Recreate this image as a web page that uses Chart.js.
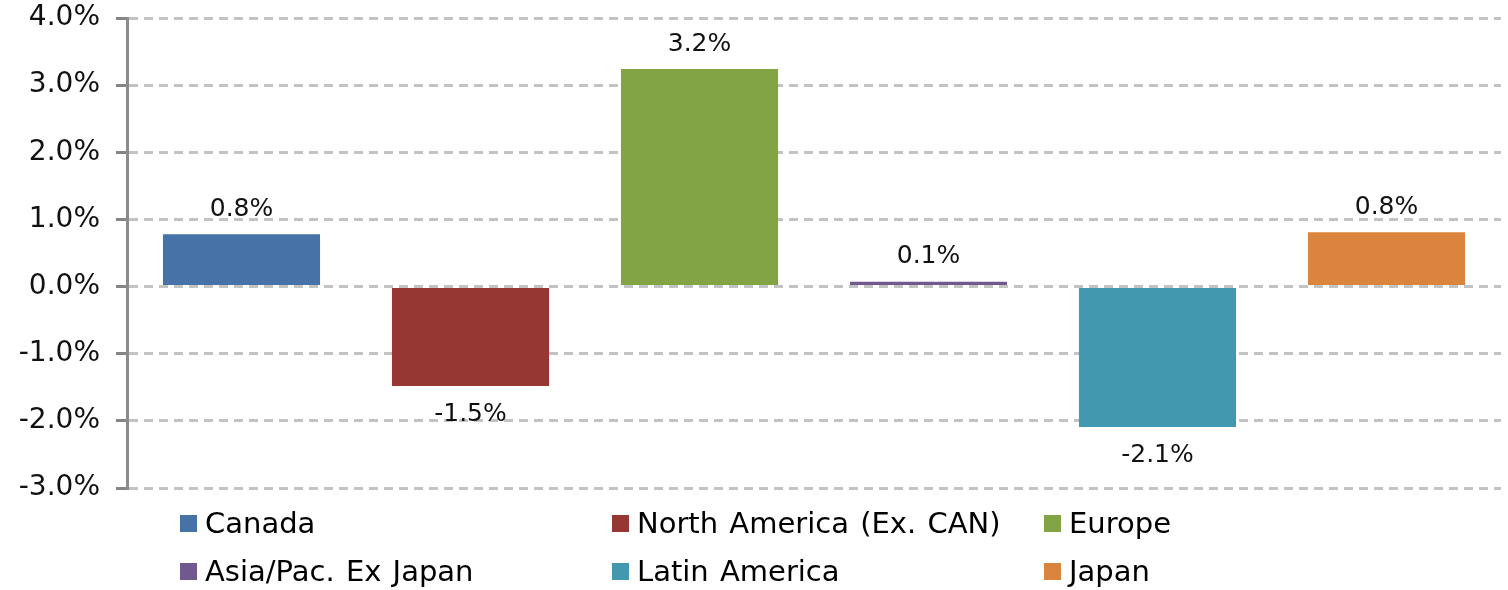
<!DOCTYPE html>
<html>
<head>
<meta charset="utf-8">
<script src="https://cdn.jsdelivr.net/npm/chart.js@4/dist/chart.umd.min.js"></script>
<style>
    html, body { margin: 0; padding: 0; background: #fff; }
    #wrap { position: relative; width: 1508px; height: 590px; }
    #legend {
        position: absolute;
        left: 180px;
        top: 499px;
        display: grid;
        grid-template-columns: 432px 432px 300px;
        font-family: "DejaVu Sans", Verdana, sans-serif;
        font-size: 29px;
        word-spacing: 2px;
        color: #000;
    }
    .item { display: flex; align-items: center; height: 48px; white-space: nowrap; }
    .box { width: 17px; height: 17px; margin-right: 8px; flex: none; }
</style>
</head>
<body>
<div id="wrap">
    <canvas id="regionChart" width="1508" height="590"></canvas>
    <div id="legend"></div>
</div>
<script>
// Chart data
const regions = ["Canada", "North America (Ex. CAN)", "Europe", "Asia/Pac. Ex Japan", "Latin America", "Japan"];
const returns = [0.78, -1.48, 3.24, 0.07, -2.09, 0.81];
const barColors = ["#4672A7", "#963734", "#82A444", "#71588F", "#4198AF", "#DB843D"];
const yTicks = [-3, -2, -1, 0, 1, 2, 3, 4];

const FONT = '"DejaVu Sans", Verdana, sans-serif';

// Draws the value above/below each bar
const valueLabels = {
    id: 'valueLabels',
    afterDatasetsDraw(chart) {
        const ctx = chart.ctx;
        ctx.save();
        ctx.font = '25px ' + FONT;
        ctx.fillStyle = '#111';
        ctx.textAlign = 'center';
        ctx.textBaseline = 'middle';
        chart.getDatasetMeta(0).data.forEach((bar, i) => {
            const v = returns[i];
            const y = v >= 0 ? bar.y - 25 : bar.y + 29;
            ctx.fillText(v.toFixed(1) + '%', bar.x, y);
        });
        ctx.restore();
    }
};

const chart = new Chart(document.getElementById('regionChart'), {
    type: 'bar',
    data: {
        labels: regions,
        datasets: [{
            data: returns,
            backgroundColor: barColors,
            borderWidth: 0,
            barPercentage: 0.686,
            categoryPercentage: 1
        }]
    },
    options: {
        responsive: false,
        animation: false,
        layout: { padding: { top: 18, right: 7, bottom: 102, left: 0 } },
        plugins: {
            legend: { display: false },
            tooltip: { enabled: false }
        },
        scales: {
            x: { display: false },
            y: {
                min: yTicks[0],
                max: yTicks[yTicks.length - 1],
                afterBuildTicks: (scale) => {
                    scale.ticks = yTicks.map(v => ({ value: v }));
                },
                afterFit: (scale) => {
                    // fixed axis width, and let layout padding decide top/bottom
                    scale.width = 127;
                    scale.paddingTop = 0;
                    scale.paddingBottom = 0;
                },
                ticks: {
                    padding: 16,
                    color: '#111',
                    font: { family: FONT, size: 28 },
                    callback: (v) => v.toFixed(1) + '%'
                },
                grid: {
                    color: '#c3c3c3',
                    lineWidth: 3,
                    tickLength: 11,
                    tickColor: '#858585',
                    tickWidth: 3,
                    tickBorderDash: []
                },
                border: {
                    color: '#8c8c8c',
                    width: 3,
                    dash: [9, 6]
                }
            }
        }
    },
    plugins: [valueLabels]
});

// HTML legend, three columns
const legend = document.getElementById('legend');
regions.forEach((name, i) => {
    const item = document.createElement('div');
    item.className = 'item';
    item.innerHTML = `<span class="box" style="background:${barColors[i]}"></span><span>${name}</span>`;
    legend.appendChild(item);
});
</script>
</body>
</html>
